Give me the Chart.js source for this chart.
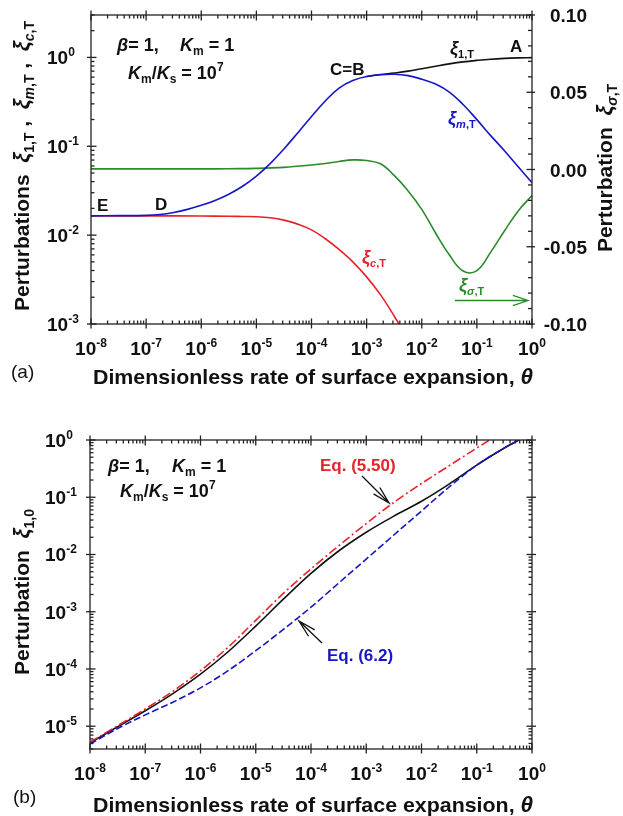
<!DOCTYPE html>
<html>
<head>
<meta charset="utf-8">
<script src="https://cdn.jsdelivr.net/npm/chart.js@4.4.1/dist/chart.umd.min.js"></script>
<style>
  body { margin: 0; background: #fff; }
  canvas { position: absolute; left: 0; }
  #chartA { top: 0; }
  #chartB { top: 395px; }
</style>
</head>
<body>
<canvas id="chartA" width="623" height="395"></canvas>
<canvas id="chartB" width="623" height="421"></canvas>
<script>
// ---- values ----

// (a) perturbations vs theta
const thetaM = [1e-8, 3.16e-8, 1e-7, 1.78e-7, 3.16e-7, 5.62e-7, 1e-6, 1.78e-6, 3.16e-6, 5.62e-6,
                1e-5, 1.78e-5, 3.16e-5, 5.62e-5, 1e-4, 1.78e-4, 3.16e-4, 5.62e-4, 1e-3, 1.78e-3,
                3.16e-3, 5.62e-3, 1e-2, 1.78e-2, 3.16e-2, 5.62e-2, 0.1, 0.178, 0.316, 0.562, 1];
const xiMT = [0.01648, 0.01656, 0.01667, 0.01706, 0.01799, 0.0195, 0.02163, 0.02455, 0.02884, 0.03548,
              0.04624, 0.06383, 0.09333, 0.1413, 0.2163, 0.3236, 0.4519, 0.5495, 0.6095, 0.6383,
              0.6457, 0.6237, 0.5689, 0.5012, 0.4074, 0.2951, 0.1995, 0.1318, 0.0891, 0.0589, 0.0389];

const theta1 = [1e-3, 1.78e-3, 3.16e-3, 5.62e-3, 1e-2, 1.78e-2, 3.16e-2, 5.62e-2, 0.1, 0.178, 0.316, 0.562, 1];
const xi1T = [0.6095, 0.642, 0.668, 0.70, 0.745, 0.795, 0.845, 0.89, 0.925, 0.955, 0.975, 0.987, 0.993];

const thetaC = [1e-8, 1e-7, 1e-6, 3.16e-6, 5.62e-6, 1e-5, 1.78e-5, 3.16e-5, 5.62e-5, 1e-4,
                1.78e-4, 3.16e-4, 5.62e-4, 1e-3, 1.78e-3, 3.16e-3, 5.62e-3];
const xiCT = [0.01648, 0.01648, 0.01641, 0.01633, 0.01622, 0.01611, 0.01567, 0.01476, 0.01330, 0.01146,
              0.00910, 0.00690, 0.00501, 0.00339, 0.00214, 0.00123, 0.00066];

const thetaSigma = [1e-8, 1e-7, 1e-6, 3.16e-6, 1e-5, 3.16e-5, 1e-4, 1.78e-4, 3.16e-4, 5.62e-4, 1e-3, 1.78e-3,
                    3.16e-3, 5.62e-3, 1e-2, 1.78e-2, 3.16e-2, 5.62e-2, 0.1, 0.178, 0.316, 0.562, 1];
const xiSigmaT = [0.0004, 0.0004, 0.0004, 0.0005, 0.0007, 0.0014, 0.0029, 0.0039, 0.0052, 0.0062, 0.0058, 0.0037,
                  -0.0038, -0.0137, -0.0258, -0.0411, -0.0552, -0.0657, -0.0655, -0.0535, -0.0398, -0.0268, -0.0169];

// (b) xi_1,0 and the two approximations
const thetaB = [1e-8, 3.16e-8, 1e-7, 3.16e-7, 1e-6, 3.16e-6, 1e-5, 3.16e-5, 1e-4, 3.16e-4, 1e-3, 3.16e-3,
                1e-2, 3.16e-2, 0.1, 0.316, 1];
const xi10 = [5.13e-6, 9.77e-6, 1.86e-5, 3.72e-5, 8.13e-5, 2.0e-4, 5.62e-4, 1.66e-3, 4.68e-3, 1.15e-2, 2.45e-2,
              4.68e-2, 8.51e-2, 0.170, 0.363, 0.724, 1.32];
const eq550 = [5.25e-6, 1.02e-5, 2.0e-5, 4.07e-5, 9.33e-5, 2.40e-4, 7.08e-4, 2.09e-3, 5.62e-3, 1.41e-2, 3.47e-2,
               8.13e-2, 0.174, 0.355, 0.724, 1.45, 2.82];
const eq62 = [4.9e-6, 9.12e-6, 1.58e-5, 2.63e-5, 4.68e-5, 9.33e-5, 2.09e-4, 4.90e-4, 1.20e-3, 3.16e-3, 8.32e-3,
              2.19e-2, 5.75e-2, 0.151, 0.363, 0.724, 1.32];

// tick labels
const xExps = [-8, -7, -6, -5, -4, -3, -2, -1, 0];
const yExpsA = [-3, -2, -1, 0];
const rightTicksA = [-0.10, -0.05, 0, 0.05, 0.10];
const rightLabelsA = ['-0.10', '-0.05', '0.00', '0.05', '0.10'];
const yExpsB = [-5, -4, -3, -2, -1, 0];

// ---- helpers ----
const FONT = '"Liberation Sans", Arial, Helvetica, sans-serif';
const INK = '#111';
const AXIS = '#222';
const BLUE = '#1616c8';
const RED = '#e6232a';
const GREEN = '#2b8a2b';

function f(size, style) { return (style || 'bold') + ' ' + size + 'px ' + FONT; }
function fi(size) { return f(size, 'italic bold'); }

function pts(xs, ys) { return xs.map((x, i) => ({ x: x, y: ys[i] })); }

// parts: [text, font, dy]
function drawRich(ctx, parts, x, y, align) {
    let w = 0;
    parts.forEach(p => { ctx.font = p[1]; w += ctx.measureText(p[0]).width; });
    let cx = x;
    if (align === 'center') cx = x - w / 2;
    if (align === 'right') cx = x - w;
    ctx.textAlign = 'left';
    ctx.textBaseline = 'alphabetic';
    parts.forEach(p => {
        ctx.font = p[1];
        ctx.fillText(p[0], cx, y + (p[2] || 0));
        cx += ctx.measureText(p[0]).width;
    });
    return w;
}

function powParts(e) { return [['10', f(19)], [String(e), f(12), -8]]; }

function vTitle(ctx, parts, x, y) {
    ctx.save();
    ctx.translate(x, y);
    ctx.rotate(-Math.PI / 2);
    drawRich(ctx, parts, 0, 0, 'center');
    ctx.restore();
}

function xTitle(ctx, cx, y, width) {
    const parts = [['Dimensionless rate of surface expansion, ', f(21)], ['θ', fi(22)]];
    let w = 0;
    parts.forEach(p => { ctx.font = p[1]; w += ctx.measureText(p[0]).width; });
    ctx.save();
    ctx.translate(cx, y);
    ctx.scale(width / w, 1);
    drawRich(ctx, parts, 0, 0, 'center');
    ctx.restore();
}

function line(ctx, x1, y1, x2, y2) {
    ctx.beginPath();
    ctx.moveTo(x1, y1);
    ctx.lineTo(x2, y2);
    ctx.stroke();
}

function arrow(ctx, x1, y1, x2, y2, len, ang, color) {
    const a = Math.atan2(y2 - y1, x2 - x1);
    ctx.strokeStyle = color;
    ctx.lineWidth = 1.3;
    ctx.beginPath();
    ctx.moveTo(x1, y1);
    ctx.lineTo(x2, y2);
    ctx.moveTo(x2 - len * Math.cos(a - ang), y2 - len * Math.sin(a - ang));
    ctx.lineTo(x2, y2);
    ctx.lineTo(x2 - len * Math.cos(a + ang), y2 - len * Math.sin(a + ang));
    ctx.stroke();
}

// 1..9 x 10^n inside [lo, hi]
function logTicks(lo, hi) {
    const out = [];
    for (let e = Math.floor(Math.log10(lo)); e <= Math.ceil(Math.log10(hi)); e++) {
        for (let m = 1; m <= 9; m++) {
            const v = m * Math.pow(10, e);
            if (v >= lo * 0.999 && v <= hi * 1.001) out.push({ v: v, major: m === 1 });
        }
    }
    return out;
}

function xLogTicks(ctx, sx, a) {
    logTicks(sx.min, sx.max).forEach(t => {
        const px = sx.getPixelForValue(t.v);
        if (t.major) {
            line(ctx, px, a.bottom + 4.5, px, a.bottom - 5.5);
            line(ctx, px, a.top - 4.5, px, a.top + 5.5);
        } else {
            line(ctx, px, a.bottom, px, a.bottom - 3.5);
            line(ctx, px, a.top, px, a.top + 3.5);
        }
    });
}

function yLogTicks(ctx, sy, a, both) {
    logTicks(sy.min, sy.max).forEach(t => {
        const py = sy.getPixelForValue(t.v);
        if (t.major) {
            line(ctx, a.left - 4, py, a.left + 5.5, py);
            if (both) line(ctx, a.right + 4, py, a.right - 5.5, py);
        } else {
            line(ctx, a.left, py, a.left + 3.5, py);
            if (both) line(ctx, a.right, py, a.right - 3.5, py);
        }
    });
}

function drawFrame(ctx, a) {
    ctx.strokeStyle = AXIS;
    ctx.lineWidth = 1.3;
    ctx.strokeRect(a.left, a.top, a.right - a.left, a.bottom - a.top);
}

// ---- panel (a) axes and labels ----
const frameA = {
    id: 'frameA',
    afterDraw(chart) {
        const ctx = chart.ctx, a = chart.chartArea;
        const sx = chart.scales.x, sy = chart.scales.y, sr = chart.scales.y2;
        ctx.save();
        drawFrame(ctx, a);
        xLogTicks(ctx, sx, a);
        yLogTicks(ctx, sy, a, false);
        for (let i = -10; i <= 10; i++) {
            const py = sr.getPixelForValue(i / 100);
            if (i % 5 === 0) line(ctx, a.right + 3, py, a.right - 5.5, py);
            else line(ctx, a.right, py, a.right - 4, py);
        }

        ctx.fillStyle = INK;
        xExps.forEach(e => drawRich(ctx, powParts(e), sx.getPixelForValue(Math.pow(10, e)), 355, 'center'));
        yExpsA.forEach(e => drawRich(ctx, powParts(e), 47, sy.getPixelForValue(Math.pow(10, e)) + 7, 'left'));
        rightTicksA.forEach((v, i) => drawRich(ctx, [[rightLabelsA[i], f(19)]], 587, sr.getPixelForValue(v) + 7, 'right'));

        vTitle(ctx, [['Perturbations  ', f(21)], ['ξ', fi(22)], ['1,T', f(14), 5], [' ,  ', f(21)],
                     ['ξ', fi(22)], ['m', fi(14), 5], [',T', f(14), 5], [' ,  ', f(21)],
                     ['ξ', fi(22)], ['c', fi(14), 5], [',T', f(14), 5]], 29, 166);
        vTitle(ctx, [['Perturbation  ', f(21)], ['ξ', fi(22)], ['σ', fi(14), 5], [',T', f(14), 5]], 612, 168);
        xTitle(ctx, 313, 384, 440);
        drawRich(ctx, [['(a)', f(19, 'normal')]], 11, 378, 'left');

        // annotations
        drawRich(ctx, [['β', fi(18)], ['= 1,', f(18)]], 117, 51, 'left');
        drawRich(ctx, [['K', fi(18)], ['m', f(12), 4], [' = 1', f(18)]], 180, 51, 'left');
        drawRich(ctx, [['K', fi(18)], ['m', f(12), 4], ['/', f(18)], ['K', fi(18)], ['s', f(12), 4],
                       [' = 10', f(18)], ['7', f(12), -8]], 128, 79, 'left');
        drawRich(ctx, [['C=B', f(17)]], 330, 75, 'left');
        drawRich(ctx, [['A', f(17)]], 510, 52, 'left');
        drawRich(ctx, [['E', f(17)]], 97, 211, 'left');
        drawRich(ctx, [['D', f(17)]], 155, 210, 'left');
        drawRich(ctx, [['ξ', fi(18)], ['1,T', f(11), 4]], 450, 54, 'left');
        ctx.fillStyle = BLUE;
        drawRich(ctx, [['ξ', fi(18)], ['m', fi(11), 4], [',T', f(11), 4]], 448, 124, 'left');
        ctx.fillStyle = RED;
        drawRich(ctx, [['ξ', fi(18)], ['c', fi(11), 4], [',T', f(11), 4]], 362, 263, 'left');
        ctx.fillStyle = GREEN;
        drawRich(ctx, [['ξ', fi(18)], ['σ', fi(11), 4], [',T', f(11), 4]], 459, 291, 'left');
        arrow(ctx, 455, 300.5, 528, 300.5, 16, 0.33, GREEN);
        ctx.restore();
    }
};

// ---- panel (b) axes and labels ----
const frameB = {
    id: 'frameB',
    afterDraw(chart) {
        const ctx = chart.ctx, a = chart.chartArea;
        const sx = chart.scales.x, sy = chart.scales.y;
        ctx.save();
        drawFrame(ctx, a);
        xLogTicks(ctx, sx, a);
        yLogTicks(ctx, sy, a, true);

        ctx.fillStyle = INK;
        xExps.forEach(e => drawRich(ctx, powParts(e), sx.getPixelForValue(Math.pow(10, e)), 385, 'center'));
        yExpsB.forEach(e => drawRich(ctx, powParts(e), 45, sy.getPixelForValue(Math.pow(10, e)) + 7, 'left'));

        vTitle(ctx, [['Perturbation  ', f(21)], ['ξ', fi(22)], ['1,0', f(14), 5]], 29, 197);
        xTitle(ctx, 313, 417, 440);
        drawRich(ctx, [['(b)', f(19, 'normal')]], 13, 408, 'left');

        drawRich(ctx, [['β', fi(18)], ['= 1,', f(18)]], 108, 77, 'left');
        drawRich(ctx, [['K', fi(18)], ['m', f(12), 4], [' = 1', f(18)]], 172, 77, 'left');
        drawRich(ctx, [['K', fi(18)], ['m', f(12), 4], ['/', f(18)], ['K', fi(18)], ['s', f(12), 4],
                       [' = 10', f(18)], ['7', f(12), -8]], 120, 102, 'left');

        ctx.fillStyle = RED;
        drawRich(ctx, [['Eq. (5.50)', f(17)]], 320, 76, 'left');
        arrow(ctx, 362, 81, 389, 108, 18, 0.25, INK);
        ctx.fillStyle = BLUE;
        drawRich(ctx, [['Eq. (6.2)', f(17)]], 327, 266, 'left');
        arrow(ctx, 322, 248, 299, 226, 18, 0.25, INK);
        ctx.restore();
    }
};

const common = {
    responsive: false,
    animation: false,
    events: [],
    elements: {
        line: { borderWidth: 1.6, tension: 0.4, fill: false },
        point: { radius: 0 }
    },
    plugins: { legend: { display: false }, tooltip: { enabled: false } }
};

new Chart(document.getElementById('chartA'), {
    type: 'line',
    data: {
        datasets: [
            { label: 'ξm,T', data: pts(thetaM, xiMT), borderColor: BLUE, yAxisID: 'y' },
            { label: 'ξ1,T', data: pts(theta1, xi1T), borderColor: INK, yAxisID: 'y' },
            { label: 'ξc,T', data: pts(thetaC, xiCT), borderColor: RED, yAxisID: 'y' },
            { label: 'ξσ,T', data: pts(thetaSigma, xiSigmaT), borderColor: GREEN, yAxisID: 'y2' }
        ]
    },
    options: Object.assign({}, common, {
        layout: { padding: { left: 91, right: 91, top: 15, bottom: 71 } },
        scales: {
            x: { type: 'logarithmic', min: 1e-8, max: 1, display: false },
            y: { type: 'logarithmic', min: 1e-3, max: 3, display: false },
            y2: { type: 'linear', position: 'right', min: -0.1, max: 0.1, display: false }
        }
    }),
    plugins: [frameA]
});

new Chart(document.getElementById('chartB'), {
    type: 'line',
    data: {
        datasets: [
            { label: 'Eq. (6.2)', data: pts(thetaB, eq62), borderColor: BLUE, borderDash: [7, 3] },
            { label: 'Eq. (5.50)', data: pts(thetaB, eq550), borderColor: RED, borderDash: [9, 3, 2, 3] },
            { label: 'ξ1,0', data: pts(thetaB, xi10), borderColor: INK }
        ]
    },
    options: Object.assign({}, common, {
        layout: { padding: { left: 90, right: 91, top: 45, bottom: 67 } },
        elements: {
            line: { borderWidth: 1.6, cubicInterpolationMode: 'monotone', fill: false },
            point: { radius: 0 }
        },
        scales: {
            x: { type: 'logarithmic', min: 1e-8, max: 1, display: false },
            y: { type: 'logarithmic', min: 4e-6, max: 1, display: false }
        }
    }),
    plugins: [frameB]
});
</script>
</body>
</html>
